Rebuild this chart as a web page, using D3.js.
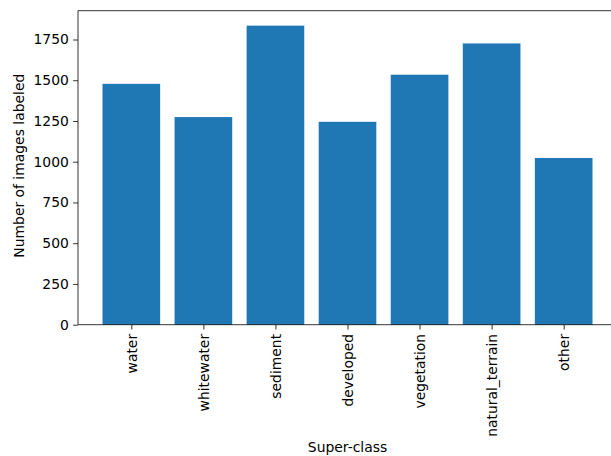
<!DOCTYPE html>
<html><head><meta charset="utf-8">
<script src="https://cdn.jsdelivr.net/npm/d3@7"></script>
<style>html,body{margin:0;padding:0;background:#fff;overflow:hidden;width:611px;height:456px;} svg{display:block;} text{font-family:"DejaVu Sans",sans-serif;}</style>
</head><body>
<svg id="c" width="611" height="456" viewBox="0 0 611 456"></svg>
<script>
const categories = ["water","whitewater","sediment","developed","vegetation","natural_terrain","other"];
const counts = [1478, 1274, 1835, 1245, 1534, 1726, 1023];
const yTicks = [0,250,500,750,1000,1250,1500,1750];
const xTitle = "Super-class";
const yTitle = "Number of images labeled";

const svg = d3.select("#c");
const W = 611;
const L = 78, R = 617, T = 10.7, B = 324.7;
const fs = 13.9, tick = 4.9, pad = 4.3;

const x = d3.scaleLinear().domain([-0.74, categories.length - 1 + 0.74]).range([L, R]);
const ymax = d3.max(counts) * 1.05;
const y = d3.scaleLinear().domain([0, ymax]).range([B, T]);

svg.append("g").selectAll("rect").data(counts).join("rect")
  .attr("x", (d,i) => x(i - 0.4))
  .attr("width", (d,i) => x(i + 0.4) - x(i - 0.4))
  .attr("y", d => y(d))
  .attr("height", d => y(0) - y(d))
  .attr("fill", "#1f77b4");

// y axis
const ya = svg.append("g").attr("transform", `translate(${L},0)`)
  .call(d3.axisLeft(y).tickValues(yTicks).tickSize(tick).tickPadding(pad).tickFormat(d3.format("d")));
ya.select(".domain").remove();
ya.selectAll("line").attr("stroke", "#000").attr("stroke-width", 0.8);
ya.selectAll("text").attr("font-size", fs).attr("fill", "#000").attr("font-family", "DejaVu Sans");

// x axis
const xa = svg.append("g").attr("transform", `translate(0,${B})`)
  .call(d3.axisBottom(x).tickValues(d3.range(categories.length)).tickSize(tick).tickPadding(pad).tickFormat(i => categories[i]));
xa.select(".domain").remove();
xa.selectAll("line").attr("stroke", "#000").attr("stroke-width", 0.8);
xa.selectAll("text")
  .attr("font-size", fs).attr("fill", "#000").attr("font-family", "DejaVu Sans")
  .attr("transform", `rotate(-90)`)
  .attr("x", -(tick + pad)).attr("y", 0).attr("dy", "0.35em")
  .attr("text-anchor", "end");

// spines (the right spine lies beyond the visible area)
const sp = svg.append("g").attr("fill", "none").attr("stroke", "#000").attr("stroke-width", 0.8);
sp.append("line").attr("x1", L).attr("x2", W).attr("y1", B).attr("y2", B);
sp.append("line").attr("x1", L).attr("x2", W).attr("y1", T).attr("y2", T);
sp.append("line").attr("x1", L).attr("x2", L).attr("y1", T).attr("y2", B);

svg.append("text").attr("x", (L + R) / 2).attr("y", 452).attr("text-anchor", "middle")
  .attr("font-size", fs).text(xTitle);
svg.append("text").attr("transform", `translate(24,${(T + B) / 2 - 2}) rotate(-90)`).attr("text-anchor", "middle")
  .attr("font-size", fs).text(yTitle);
</script>
</body></html>
